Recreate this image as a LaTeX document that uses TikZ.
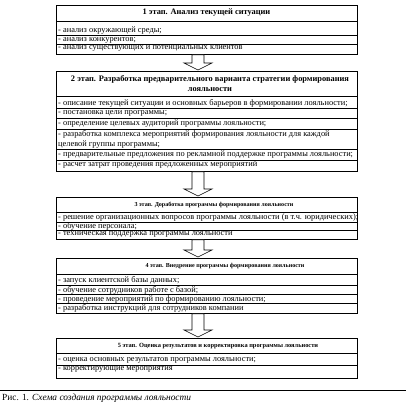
\documentclass[tikz,border=0pt]{standalone}
\usepackage{fontspec}
\setmainfont{Liberation Serif}
\usetikzlibrary{calc}
\newcommand\barrow[2]{\draw[arrowline] ($(#1)+(-6,0)$) -- ($(#1)+(6,0)$) -- ($(#2)+(6,-7)$) -- ($(#2)+(14,-7)$) -- (#2) -- ($(#2)+(-14,-7)$) -- ($(#2)+(-6,-7)$) -- cycle;}
\begin{document}
\begin{tikzpicture}[x=1bp,y=-1bp,
  stagebox/.style={draw, line width=0.8bp, inner sep=0, minimum width=301bp, anchor=north west},
  sepline/.style={line width=0.35bp},
  headsep/.style={line width=0.6bp},
  item/.style={anchor=west, inner sep=0, font=\fontsize{8.4}{10}\selectfont, align=left},
  headbig/.style={inner sep=0, font=\bfseries\fontsize{8.4}{10}\selectfont, align=center},
  headsmall/.style={inner sep=0, font=\bfseries\fontsize{6.1}{8}\selectfont, align=center},
  arrowline/.style={draw, line width=0.6bp, fill=white}]
\useasboundingbox[fill=white] (0,0) rectangle (406,412);

% box 1
\node[stagebox, minimum height=49bp] (b1) at (56,5) {};
\node[headbig] (h1) at (206.5,13) {1 этап. Анализ текущей ситуации};
\draw[headsep] (56,21) -- (357,21);
\node[item] (i11) at (58,31) {- анализ окружающей среды;};
\draw[sepline] (56,35.5) -- (357,35.5);
\node[item] (i12) at (58,40) {- анализ конкурентов;};
\draw[sepline] (56,44) -- (357,44);
\node[item] (i13) at (58,48.5) {- анализ существующих и потенциальных клиентов};

% box 2
\node[stagebox, minimum height=100bp] (b2) at (56,71) {};
\node[headbig] (h2) at (210,84) {2 этап. Разработка предварительного варианта стратегии формирования\\лояльности};
\draw[headsep] (56,96) -- (357,96);
\node[item] (i21) at (58,103) {- описание текущей ситуации и основных барьеров в формировании лояльности;};
\draw[sepline] (56,108) -- (357,108);
\node[item] (i22) at (58,113) {- постановка цели программы;};
\draw[sepline] (56,118.5) -- (357,118.5);
\node[item] (i23) at (58,124) {- определение целевых аудиторий программы лояльности;};
\draw[sepline] (56,129) -- (357,129);
\node[item] (i24) at (58,139) {- разработка комплекса мероприятий формирования лояльности для каждой\\целевой группы программы;};
\draw[sepline] (56,149.5) -- (357,149.5);
\node[item] (i25) at (58,155) {- предварительные предложения по рекламной поддержке программы лояльности;};
\draw[sepline] (56,160) -- (357,160);
\node[item] (i26) at (58,165) {- расчет затрат проведения предложенных мероприятий};

% box 3
\node[stagebox, minimum height=42bp] (b3) at (56,197) {};
\node[headsmall] (h3) at (214,205) {3 этап. Доработка программы формирования лояльности};
\draw[headsep] (56,212) -- (357,212);
\node[item] (i31) at (58,217.5) {- решение организационных вопросов программы лояльности (в т.ч. юридических);};
\draw[sepline] (56,221.7) -- (357,221.7);
\node[item] (i32) at (58,226) {- обучение персонала;};
\draw[sepline] (56,230.2) -- (357,230.2);
\node[item] (i33) at (58,234.5) {- техническая поддержка программы лояльности};

% box 4
\node[stagebox, minimum height=55bp] (b4) at (56,258) {};
\node[headsmall] (h4) at (225,266) {4 этап. Внедрение программы формирования лояльности};
\draw[headsep] (56,274) -- (357,274);
\node[item] (i41) at (58,280.5) {- запуск клиентской базы данных;};
\draw[sepline] (56,285.2) -- (357,285.2);
\node[item] (i42) at (58,290) {- обучение сотрудников работе с базой;};
\draw[sepline] (56,294.5) -- (357,294.5);
\node[item] (i43) at (58,299) {- проведение мероприятий по формированию лояльности;};
\draw[sepline] (56,303.5) -- (357,303.5);
\node[item] (i44) at (58,308) {- разработка инструкций для сотрудников компании};

% box 5
\node[stagebox, minimum height=40bp] (b5) at (56,338) {};
\node[headsmall, font=\bfseries\fontsize{6.4}{8}\selectfont] (h5) at (218,346.5) {5 этап. Оценка результатов и корректировка программы лояльности};
\draw[headsep] (56,353) -- (357,353);
\node[item] (i51) at (58,360.5) {- оценка основных результатов программы лояльности;};
\draw[sepline] (56,365) -- (357,365);
\node[item] (i52) at (58,369.5) {- корректирующие мероприятия};

% arrows
\coordinate (ax) at (198,0);
\coordinate (a1s) at (b1.south -| ax); \coordinate (a1e) at ($(b2.north -| ax)+(0,-1)$);
\coordinate (a2s) at (b2.south -| ax); \coordinate (a2e) at ($(b3.north -| ax)+(0,-1)$);
\coordinate (a3s) at (b3.south -| ax); \coordinate (a3e) at ($(b4.north -| ax)+(0,-1)$);
\coordinate (a4s) at (b4.south -| ax); \coordinate (a4e) at ($(b5.north -| ax)+(0,-1)$);
\barrow{a1s}{a1e}
\barrow{a2s}{a2e}
\barrow{a3s}{a3e}
\barrow{a4s}{a4e}

% caption
\coordinate (rl) at (0,390); \coordinate (rr) at (406,390);
\draw[line width=0.8bp] (rl) -- (rr);
\node[anchor=west, inner sep=0, font=\fontsize{9.4}{11}\selectfont] (cap) at (2,398) {Рис. 1. \textit{Схема создания программы лояльности}};
\end{tikzpicture}
\end{document}
